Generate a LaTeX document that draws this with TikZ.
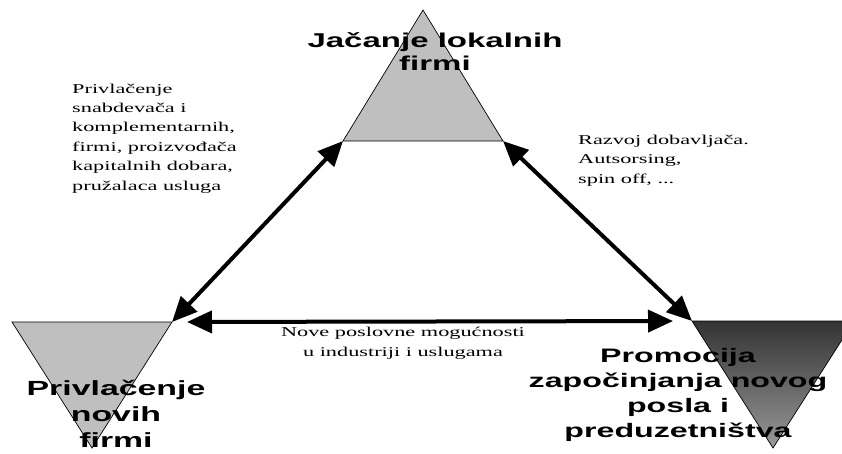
\documentclass[tikz,border=0pt]{standalone}
\usepackage{fontspec}
\setmainfont{Liberation Serif}[FakeStretch=1.65]
\newfontfamily\titlefont{Liberation Sans}[FakeStretch=1.65]
\usetikzlibrary{arrows.meta}

\tikzset{
  shape edge/.style={draw=black, line width=0.7pt},
  lbl/.style={font=\titlefont\bfseries\fontsize{19}{23}\selectfont, align=center, inner sep=0pt, anchor=base},
  note/.style={font=\fontsize{13.5}{19.4}\selectfont, align=left, inner sep=0pt, anchor=base west},
  link/.style={line width=4pt, {Triangle[length=25pt,width=22pt]}-{Triangle[length=25pt,width=22pt]}}
}

\begin{document}
\begin{tikzpicture}[x=1pt,y=-1pt]
\useasboundingbox (0,0) rectangle (842,453);

\coordinate (lok-a) at (423,10);
\coordinate (lok-l) at (343,141);
\coordinate (lok-r) at (503,141);

\coordinate (nov-l) at (12,322);
\coordinate (nov-r) at (172,322);
\coordinate (nov-a) at (92,448);

\coordinate (pre-l) at (692,321);
\coordinate (pre-r) at (854,321);
\coordinate (pre-a) at (773,448);

\filldraw[shape edge, fill=black!25] (lok-a) -- (lok-l) -- (lok-r) -- cycle;
\filldraw[shape edge, fill=black!25] (nov-l) -- (nov-r) -- (nov-a) -- cycle;
\shade[top color=black!80, bottom color=black!40] (pre-l) -- (pre-r) -- (pre-a) -- cycle;
\draw[shape edge] (pre-l) -- (pre-r) -- (pre-a) -- cycle;

\node[lbl, font=\titlefont\bfseries\fontsize{20}{22.5}\selectfont] (lok-txt) at (435,70) {Jačanje lokalnih\\firmi};
\node[lbl, font=\titlefont\bfseries\fontsize{20.5}{26}\selectfont] (nov-txt) at (116,447) {Privlačenje\\novih\\firmi};
\node[lbl, font=\titlefont\bfseries\fontsize{19.5}{25}\selectfont] (pre-txt) at (678,437) {Promocija\\započinjanja novog\\posla i\\preduzetništva};

\node[note] (nov-note) at (72,190) {Privlačenje\\snabdevača i\\komplementarnih,\\firmi, proizvođača\\kapitalnih dobara,\\pružalaca usluga};
\node[note] (pre-note) at (578,183) {Razvoj dobavljača.\\Autsorsing,\\spin off, ...};
\node[note, align=center, anchor=base] (mid-note) at (403,356) {Nove poslovne mogućnosti\\u industriji i uslugama};

\draw[link] (lok-l) -- (nov-r);
\draw[link] (lok-r) -- (pre-l);
\draw[link, shorten <=15pt, shorten >=19pt] (nov-r) -- (pre-l);
\end{tikzpicture}
\end{document}
